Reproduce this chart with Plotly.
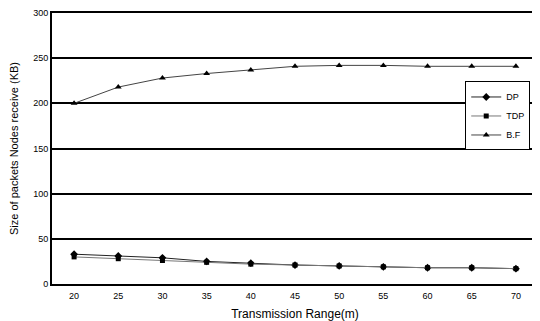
import plotly.graph_objects as go

ranges = [20, 25, 30, 35, 40, 45, 50, 55, 60, 65, 70]
dp = [33, 31, 29, 25, 23, 21, 20, 19, 18, 18, 17]
tdp = [30, 28, 26, 24, 22, 21, 20, 19, 18, 18, 17]
bf = [200, 218, 228, 233, 237, 241, 242, 242, 241, 241, 241]
y_ticks = [0, 50, 100, 150, 200, 250, 300]

fig = go.Figure()
fig.add_trace(go.Scatter(x=ranges, y=dp, name="DP", mode="lines+markers",
                         line=dict(color="#222222", width=1),
                         marker=dict(symbol="diamond", size=6, color="black")))
fig.add_trace(go.Scatter(x=ranges, y=tdp, name="TDP", mode="lines+markers",
                         line=dict(color="#777777", width=1),
                         marker=dict(symbol="square", size=5, color="black")))
fig.add_trace(go.Scatter(x=ranges, y=bf, name="B.F", mode="lines+markers",
                         line=dict(color="#444444", width=1),
                         marker=dict(symbol="triangle-up", size=6, color="black")))

# page body has an 8px default margin; figure size compensates for it
fig.update_layout(
    width=532, height=313,
    margin=dict(l=44, r=2, t=5, b=37),
    paper_bgcolor="white", plot_bgcolor="white",
    font=dict(family="Liberation Sans, Arial", color="black"),
    showlegend=True,
    legend=dict(x=0.984, y=0.62, xanchor="right", yanchor="middle",
                bgcolor="white", bordercolor="black", borderwidth=1,
                font=dict(size=9), tracegroupgap=0, itemwidth=30),
)
fig.update_xaxes(range=[17.5, 72.5], tickvals=ranges, ticktext=[str(v) for v in ranges],
                 showgrid=False, zeroline=False, showline=True, linecolor="black",
                 linewidth=2, mirror=True, ticks="", tickfont=dict(size=9),
                 ticklabelstandoff=2, automargin=False,
                 title=dict(text="Transmission Range(m)", font=dict(size=12), standoff=10))
fig.update_yaxes(range=[0, 300], tickvals=y_ticks, showgrid=True, gridcolor="black",
                 gridwidth=2, zeroline=False, showline=True, linecolor="black",
                 linewidth=2, mirror=True, ticks="", tickfont=dict(size=9),
                 automargin=False,
                 title=dict(text="Size of packets Nodes receive (KB)", font=dict(size=11), standoff=12))

fig.write_html("out.html")
